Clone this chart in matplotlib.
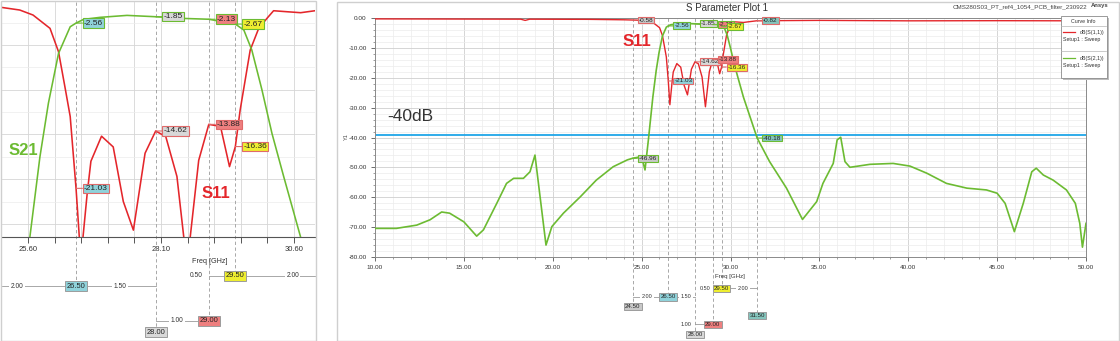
import matplotlib
matplotlib.use("Agg")
import matplotlib.pyplot as plt
import matplotlib.transforms as mtransforms
from matplotlib.lines import Line2D
from matplotlib.patches import Rectangle
from matplotlib.ticker import MultipleLocator, FormatStrFormatter

plt.rcParams['font.family'] = ['Liberation Sans', 'DejaVu Sans']

# values (freq in GHz, level in dB)
s11_freq = [10.0, 14.0, 18.2, 18.45, 18.7, 22.0, 24.0, 24.5, 25.1, 25.44, 25.69, 26.01, 26.17, 26.29,
            26.39, 26.5, 26.59, 26.71, 26.78, 26.98, 27.2, 27.39, 27.58, 27.8, 28.0, 28.19, 28.4, 28.59,
            28.81, 29.0, 29.22, 29.39, 29.5, 29.59, 29.78, 29.94, 30.1, 30.22, 30.47, 30.73, 31.0, 31.5,
            35.0, 40.0, 45.0, 50.0]
s11_db = [-0.2, -0.25, -0.3, -0.7, -0.3, -0.35, -0.5, -0.58, -0.81, -1.1, -1.66, -3.15, -5.76, -9.67,
          -13.0, -21.03, -29.0, -21.6, -18.0, -15.2, -16.4, -22.5, -25.7, -17.1, -14.62, -15.25, -19.7, -29.7,
          -17.9, -13.88, -14.1, -18.6, -16.36, -12.3, -5.57, -3.15, -2.0, -1.18, -1.29, -1.4, -1.18, -0.82,
          -0.7, -0.85, -0.8, -0.85]

s21_freq = [10.0, 11.2, 12.35, 13.1, 13.75, 14.2, 15.0, 15.72, 16.1, 16.85, 17.4, 17.8, 18.35, 18.72,
            19.0, 19.62, 19.95, 20.6, 21.55, 22.45, 23.4, 24.2, 24.5, 25.0, 25.19, 25.38, 25.63, 25.82,
            25.98, 26.17, 26.39, 26.5, 26.64, 26.95, 27.46, 28.0, 28.53, 29.0, 29.5, 29.66, 29.81, 30.0,
            30.19, 30.41, 30.73, 31.5, 32.2, 33.15, 34.05, 34.85, 35.2, 35.78, 36.0, 36.2, 36.44, 36.72,
            37.85, 39.15, 40.1, 41.05, 42.15, 43.3, 44.4, 45.0, 45.45, 45.97, 46.47, 46.95, 47.2, 47.6,
            48.15, 48.9, 49.4, 49.65, 49.8, 50.0]
s21_db = [-70.5, -70.5, -69.4, -67.6, -65.0, -65.4, -68.3, -73.1, -71.0, -62.1, -55.4, -53.7, -53.7, -51.5,
          -45.9, -76.1, -69.9, -65.4, -59.9, -54.3, -49.8, -47.5, -46.96, -46.4, -50.9, -40.8, -26.5, -17.5,
          -11.5, -5.95, -2.97, -2.56, -2.15, -1.92, -1.70, -1.85, -2.04, -2.13, -2.67, -3.34, -5.57, -10.0,
          -14.9, -19.7, -26.5, -40.18, -48.1, -57.0, -67.5, -61.5, -55.4, -48.7, -40.8, -39.9, -48.1, -50.0,
          -49.0, -48.7, -49.6, -52.0, -55.4, -57.0, -57.6, -58.7, -62.1, -71.6, -62.1, -51.5, -50.3, -52.6,
          -54.3, -57.6, -62.1, -68.8, -76.8, -68.8]

marker_freq = [24.5, 26.5, 28.0, 29.0, 29.5, 31.5]
marker_s11 = [-0.58, -21.03, -14.62, -13.88, -16.36, -0.82]
marker_s21 = [-46.96, -2.56, -1.85, -2.13, -2.67, -40.18]
marker_fill = ['#c8c8c8', '#8fd2da', '#d8d8d8', '#ee7f7f', '#eeee30', '#84c4bc']
spec_level = -39

RED = '#e4262b'
GREEN = '#6cbb32'
BLUE = '#1fa6e8'
W, H = 1120, 341

fig = plt.figure(figsize=(W / 100, H / 100), dpi=100)


def fx(px):
    return px / W


def fy(py):
    return 1 - py / H


# panel frames
for x0, y0, x1, y1 in [(0.5, 0.5, 315.5, 340.5), (336.5, 1.5, 1118.5, 340.5)]:
    fig.patches.append(Rectangle((fx(x0), fy(y1)), fx(x1 - x0), (y1 - y0) / H,
                                 transform=fig.transFigure, fill=False, ec='#cfcfcf', lw=1))


def curve_tag(ax, f, v, fill, edge, fs, dx, z):
    ax.annotate(f'{v:.2f}', xy=(f, v), xytext=(dx, 0), textcoords='offset pixels',
                ha='left', va='center', fontsize=fs, color='#222', zorder=z,
                bbox=dict(boxstyle='square,pad=0.15', fc=fill, ec=edge, lw=0.8),
                arrowprops=dict(arrowstyle='-', color=edge, lw=0.8, shrinkA=0, shrinkB=0))


def marker_block(ax, top, tag_y, rows, deltas, fs_tag, fs_delta):
    tr = mtransforms.blended_transform_factory(ax.transData, fig.transFigure)
    for f, fill in zip(marker_freq, marker_fill):
        if f not in tag_y:
            continue
        ax.plot([f, f], [fy(top), fy(tag_y[f])], transform=tr, clip_on=False,
                color='#9a9a9a', lw=0.6, dashes=(4, 3), zorder=1)
        ax.text(f, fy(tag_y[f]), f'{f:.2f}', transform=tr, ha='center', va='center',
                fontsize=fs_tag, color='#222', clip_on=False, zorder=5,
                bbox=dict(boxstyle='square,pad=0.2', fc=fill, ec='#9c9c9c', lw=0.7))
    for x0, x1, y in rows:
        ax.plot([x0, x1], [fy(y), fy(y)], transform=tr, clip_on=False, color='#9a9a9a', lw=0.6, zorder=1)
    for i, x, y in deltas:
        d = marker_freq[i + 1] - marker_freq[i]
        ax.text(x, fy(y), f'{d:.2f}', transform=tr, ha='center', va='center', fontsize=fs_delta,
                color='#333', clip_on=False, zorder=4, bbox=dict(fc='white', ec='none', pad=1))


# ---------------- left: zoomed passband ----------------
ax1 = fig.add_axes([fx(1.7), fy(237.3), (315 - 1.7) / W, (237.3 - 1.7) / H])
ax1.plot(s11_freq, s11_db, color=RED, lw=1.15, zorder=3)
ax1.plot(s21_freq, s21_db, color=GREEN, lw=1.15, zorder=3)
ax1.set_xlim(25.10, 31.0)
ax1.set_ylim(-26.5, -0.17)
xt = [25.6 + 0.5 * k for k in range(11)]
ax1.set_xticks(xt)
ax1.set_xticklabels([f'{t:.2f}' if k % 5 == 0 else '' for k, t in enumerate(xt)])
ax1.yaxis.set_major_locator(MultipleLocator(5))
ax1.yaxis.set_minor_locator(MultipleLocator(2.5))
ax1.grid(which='major', color='#d6d6d6', lw=0.6)
ax1.grid(which='minor', axis='y', color='#ececec', lw=0.5)
ax1.set_axisbelow(True)
ax1.tick_params(axis='x', direction='out', length=4, width=0.7, color='#555',
                labelsize=5.5, labelcolor='#333', pad=2)
ax1.tick_params(axis='y', which='both', length=0, labelleft=False)
for s in ['left', 'top', 'right']:
    ax1.spines[s].set_visible(False)
ax1.spines['bottom'].set_color('#555')
ax1.spines['bottom'].set_linewidth(0.8)

for f, v1, v2, fill in zip(marker_freq, marker_s11, marker_s21, marker_fill):
    if 25.1 < f < 31.0:
        curve_tag(ax1, f, v2, fill, GREEN, 6, 8, 6)
        curve_tag(ax1, f, v1, fill, '#e06a6a', 6, 8, 6)

marker_block(ax1, 1.7,
             {26.5: 286, 28.0: 332, 29.0: 320.5, 29.5: 275.7},
             [(25.10, 28.0, 286), (29.0, 31.0, 275.7), (28.0, 29.0, 320.5)],
             [(0, 25.39, 286), (1, 27.33, 286), (2, 28.40, 320.5), (3, 28.77, 275.7), (4, 30.58, 275.7)],
             5.4, 4.8)
fig.text(fx(210), fy(261.7), 'Freq [GHz]', ha='center', va='center', fontsize=5.2, color='#333')
fig.text(fx(9), fy(150), 'S21', ha='left', va='center', fontsize=12, weight='bold', color=GREEN)
fig.text(fx(202), fy(193), 'S11', ha='left', va='center', fontsize=12, weight='bold', color=RED)

# ---------------- right: full sweep ----------------
ax2 = fig.add_axes([fx(375), fy(256.7), 711 / W, 238.4 / H])
ax2.plot(s11_freq, s11_db, color=RED, lw=1.0, zorder=3)
ax2.plot(s21_freq, s21_db, color=GREEN, lw=1.2, zorder=3)
ax2.axhline(spec_level, color=BLUE, lw=1.3, zorder=2)
ax2.set_xlim(10, 50)
ax2.set_ylim(-80, 0)
ax2.xaxis.set_major_locator(MultipleLocator(5))
ax2.xaxis.set_minor_locator(MultipleLocator(1))
ax2.yaxis.set_major_locator(MultipleLocator(10))
ax2.yaxis.set_minor_locator(MultipleLocator(2))
ax2.xaxis.set_major_formatter(FormatStrFormatter('%.2f'))
ax2.yaxis.set_major_formatter(FormatStrFormatter('%.2f'))
ax2.grid(which='major', color='#cfcfcf', lw=0.6)
ax2.grid(which='minor', color='#ececec', lw=0.5)
ax2.set_axisbelow(True)
ax2.tick_params(which='major', direction='out', length=3, width=0.6, color='#555',
                labelsize=4.6, labelcolor='#333', pad=3)
ax2.tick_params(which='minor', direction='out', length=1.6, width=0.5, color='#777')
for s in ax2.spines.values():
    s.set_color('#8a8a8a')
    s.set_linewidth(0.7)

for k, (f, v1, v2, fill) in enumerate(zip(marker_freq, marker_s11, marker_s21, marker_fill)):
    curve_tag(ax2, f, v2, fill, GREEN, 4.6, 6, 6 + k)
    curve_tag(ax2, f, v1, fill, '#e06a6a', 4.6, 6, 6 + k)

marker_block(ax2, 18.3,
             {24.5: 306.7, 26.5: 297, 28.0: 334.3, 29.0: 324.3, 29.5: 288.3, 31.5: 315.7},
             [(24.5, 28.0, 297), (29.0, 31.5, 288.3), (28.0, 29.0, 324.3)],
             [(0, 25.29, 297), (1, 27.50, 297), (2, 27.50, 324.3), (3, 28.57, 288.3), (4, 30.70, 288.3)],
             4.4, 4.0)
fig.text(fx(730), fy(276.7), 'Freq [GHz]', ha='center', va='center', fontsize=4.4, color='#333')
fig.text(fx(346), fy(137), 'Y1', rotation=90, ha='center', va='center', fontsize=4, color='#444')
fig.text(fx(637), fy(42), 'S11', ha='center', va='center', fontsize=12, weight='bold', color=RED)
fig.text(fx(387), fy(117), '-40dB', ha='left', va='center', fontsize=12.5, color='#333')

# header
fig.text(fx(727), fy(8), 'S Parameter Plot 1', ha='center', va='center', fontsize=7, color='#333')
fig.text(fx(1087), fy(7.3), 'CMS280S03_PT_ref4_1054_PCB_filter_230922', ha='right', va='center',
         fontsize=4.5, color='#444')
fig.text(fx(1108), fy(5.7), 'Ansys', ha='right', va='center', fontsize=4.2, weight='bold', color='#444')

# curve info box
fig.patches.append(Rectangle((fx(1062.5), fy(80)), fx(46), 62 / H, transform=fig.transFigure,
                             fc='#bdbdbd', ec='none', zorder=8))
fig.patches.append(Rectangle((fx(1060.5), fy(78)), fx(46), 62 / H, transform=fig.transFigure,
                             fc='white', ec='#8a8a8a', lw=0.6, zorder=9))
fig.text(fx(1083.5), fy(21.5), 'Curve Info', ha='center', va='center', fontsize=3.8, color='#333', zorder=10)
for y in (26, 51):
    fig.add_artist(Line2D([fx(1061), fx(1106)], [fy(y), fy(y)], transform=fig.transFigure,
                          color='#b5b5b5', lw=0.5, zorder=10))
for y, name, col in [(32.3, 'dB(S(1,1))', RED), (58.3, 'dB(S(2,1))', GREEN)]:
    fig.add_artist(Line2D([fx(1063), fx(1075)], [fy(y), fy(y)], transform=fig.transFigure,
                          color=col, lw=0.9, zorder=10))
    fig.text(fx(1104), fy(y), name, ha='right', va='center', fontsize=3.8, color='#333', zorder=10)
    fig.text(fx(1063), fy(y + 7.5), 'Setup1 : Sweep', ha='left', va='center', fontsize=3.8,
             color='#333', zorder=10)

fig.savefig('out.png', dpi=100, facecolor='white')
